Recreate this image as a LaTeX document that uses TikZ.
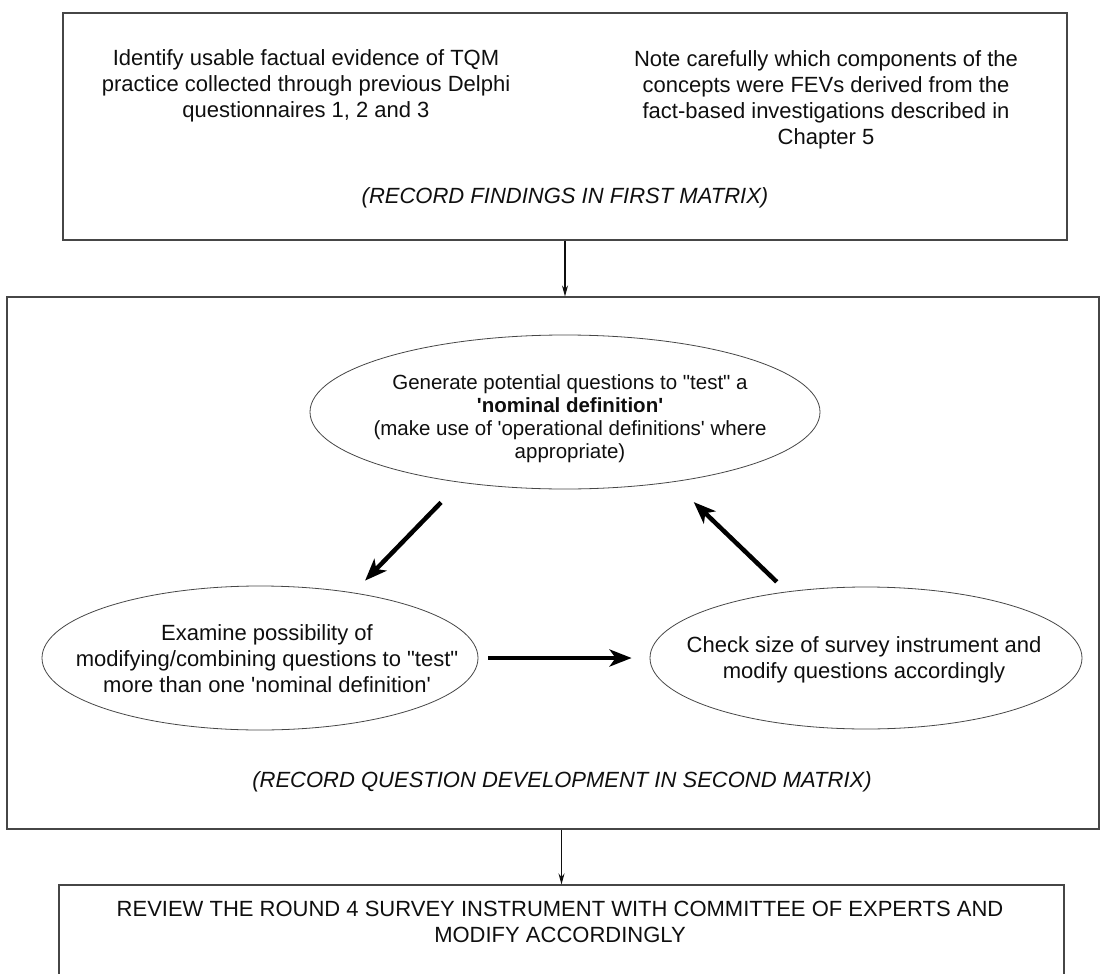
\documentclass[tikz,border=0pt]{standalone}
\usepackage{fontspec}
\newfontfamily\arialfont{Liberation Sans}
\usetikzlibrary{arrows.meta, calc, shapes.geometric}
\definecolor{framecol}{RGB}{70,70,70}
\definecolor{inkcol}{RGB}{15,15,15}

\begin{document}
\begin{tikzpicture}[
    x=1pt, y=-1pt,
    framebox/.style={draw=framecol, line width=1.1pt, rectangle, inner sep=0pt},
    oval/.style={draw=framecol, line width=0.8pt, ellipse, inner sep=0pt},
    txt/.style={text=inkcol, align=center, font=\arialfont\fontsize{22}{26}\selectfont},
    rectxt/.style={text=inkcol, align=center, font=\arialfont\itshape\fontsize{22}{26}\selectfont},
    ovaltxt/.style={text=inkcol, align=center, font=\arialfont\fontsize{20.5}{23}\selectfont},
    thinarr/.style={-{Stealth[length=11pt, width=6pt]}, line width=1.1pt, draw=inkcol},
    thickarr/.style={-{Stealth[length=22pt, width=17pt, inset=6pt]}, line width=4.5pt, draw=black},
]

\useasboundingbox (0,0) rectangle (1101,974);

% ════════════════════════════════════════════════════════
% 1. FIRST MATRIX
% ════════════════════════════════════════════════════════
\node[framebox, minimum width=1004pt, minimum height=227pt] (findbox) at (565,126.5) {};

\node[txt] (evidtxt) at (306,86)
    {Identify usable factual evidence of TQM\\
     practice collected through previous Delphi\\
     questionnaires 1, 2 and 3};
\node[txt] (fevtxt) at (826,99.5)
    {Note carefully which components of the\\
     concepts were FEVs derived from the\\
     fact-based investigations described in\\
     Chapter 5};
\node[rectxt] (findrec) at (565,198) {(RECORD FINDINGS IN FIRST MATRIX)};

% ════════════════════════════════════════════════════════
% 2. SECOND MATRIX (question cycle)
% ════════════════════════════════════════════════════════
\node[framebox, minimum width=1092pt, minimum height=532pt] (devbox) at (553,563) {};

\draw[thinarr] (findbox.south) -- (findbox.south |- devbox.north);

% ── the three ovals
\node[oval, minimum width=510pt, minimum height=154pt] (gen)   at (565,412) {};
\node[oval, minimum width=436pt, minimum height=144pt] (exam)  at (260,658) {};
\node[oval, minimum width=432pt, minimum height=142pt] (check) at (866,658) {};

\node[ovaltxt] (gentxt) at (570,418.5)
    {Generate potential questions to "test" a\\
     \textbf{'nominal definition'}\\
     (make use of 'operational definitions' where\\
     appropriate)};
\node[txt] (examtxt) at (267,659)
    {Examine possibility of\\
     modifying/combining questions to "test"\\
     more than one 'nominal definition'};
\node[txt] (checktxt) at (864,660)
    {Check size of survey instrument and\\
     modify questions accordingly};

% ── cycle arrows
\draw[thickarr, shorten <=27.6pt, shorten >=16.7pt] (gen.214.5) -- (exam.35);
\draw[thickarr, shorten <=10pt, shorten >=18pt] (exam.east) -- (check.west);
\draw[thickarr, shorten <=14pt, shorten >=28.8pt] (check.140) -- (gen.327.6);

\node[rectxt] (devrec) at (562,782) {(RECORD QUESTION DEVELOPMENT IN SECOND MATRIX)};

% ════════════════════════════════════════════════════════
% 3. REVIEW
% ════════════════════════════════════════════════════════
\node[framebox, minimum width=1005pt, minimum height=160pt] (reviewbox) at (561.5,965) {};

\draw[thinarr] (reviewbox.north |- devbox.south) -- (reviewbox.north);

\node[txt] (reviewtxt) at (560,922)
    {REVIEW THE ROUND 4 SURVEY INSTRUMENT WITH COMMITTEE OF EXPERTS AND\\
     MODIFY ACCORDINGLY};

\end{tikzpicture}
\end{document}
